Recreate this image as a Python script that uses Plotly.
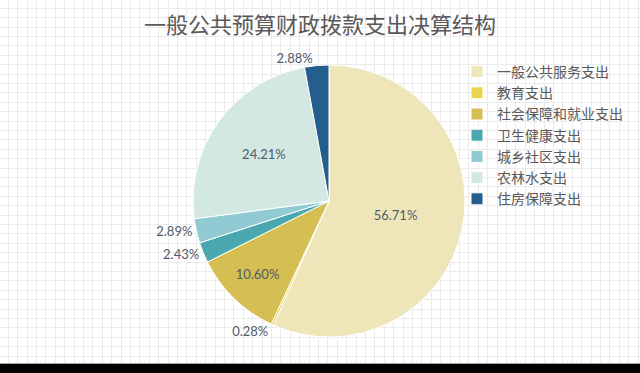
import plotly.graph_objects as go

categories = ["一般公共服务支出", "教育支出", "社会保障和就业支出", "卫生健康支出",
              "城乡社区支出", "农林水支出", "住房保障支出"]
values = [56.71, 0.28, 10.60, 2.43, 2.89, 24.21, 2.88]
colors = ["#EEE6B8", "#EAD44C", "#D5BE52", "#4AA6AF", "#92CAD3", "#D4E8E3", "#245E8E"]
positions = ["inside", "outside", "inside", "outside", "outside", "inside", "outside"]
labels_txt = [f"{v:.2f}%" for v in values]
title_text = "一般公共预算财政拨款支出决算结构"

W, H = 640, 373
BAR = 10  # black strip at the bottom

fig = go.Figure()

# background grid (worksheet look) via a hidden cartesian axis
fig.add_trace(go.Scatter(x=[0], y=[0], mode="markers", marker=dict(opacity=0),
                         showlegend=False, hoverinfo="skip"))

cx, cy, r = 329, 201, 136
fig.add_trace(go.Pie(
    labels=categories, values=values, sort=False, direction="clockwise", rotation=0,
    marker=dict(colors=colors, line=dict(color="white", width=1)),
    text=labels_txt, texttemplate="%{text}", textposition=positions,
    textfont=dict(family="Lato, Noto Sans", size=13, color="#4F5B6B"),
    insidetextorientation="horizontal",
    domain=dict(x=[(cx - r) / W, (cx + r) / W],
                y=[(H - cy - r) / H, (H - cy + r) / H]),
    hoverinfo="label+percent",
))

fig.update_layout(
    width=W, height=H,
    margin=dict(l=0, r=0, t=0, b=0),
    paper_bgcolor="black", plot_bgcolor="white",
    xaxis=dict(range=[0, W], tick0=8.3, dtick=9.4, showgrid=True, gridcolor="#EBEBEB",
               gridwidth=1, showticklabels=False, zeroline=False, ticks="",
               showline=True, linecolor="#A0A0A0", linewidth=1, mirror=False,
               domain=[0, 1], fixedrange=True),
    yaxis=dict(range=[H - BAR, 0], tick0=8.3, dtick=9.4, showgrid=True, gridcolor="#EBEBEB",
               gridwidth=1, showticklabels=False, zeroline=False, ticks="",
               domain=[BAR / H, 1], fixedrange=True),
    title=dict(text=title_text, x=0.5, xanchor="center", y=1 - 25 / H, yanchor="middle",
               font=dict(family="Noto Sans CJK SC", size=22, color="#595959")),
    legend=dict(x=(497 - 40) / W, y=1 - 56 / H, xanchor="left", yanchor="top",
                bgcolor="rgba(0,0,0,0)", itemwidth=30,
                font=dict(family="Noto Sans CJK SC", size=14, color="#595959")),
    showlegend=True,
)

fig.write_html("out.html", config={"displayModeBar": False},
               post_script="document.body.style.margin='0';document.body.style.padding='0';")
